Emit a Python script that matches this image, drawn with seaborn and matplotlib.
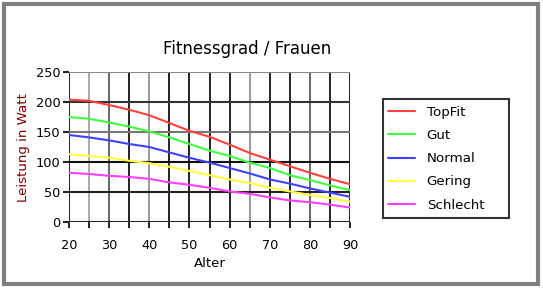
import matplotlib
matplotlib.use("Agg")
import matplotlib.pyplot as plt
import seaborn as sns
import pandas as pd
from matplotlib.patches import Rectangle

alter = [20, 25, 30, 35, 40, 45, 50, 55, 60, 65, 70, 75, 80, 85, 90]
topfit = [204, 202, 195, 187, 178, 165, 152, 142, 129, 115, 104, 93, 82, 72, 63]
gut = [175, 172, 166, 159, 151, 141, 130, 119, 110, 99, 90, 78, 70, 61, 53]
normal = [145, 141, 136, 130, 125, 116, 107, 99, 90, 81, 71, 64, 56, 49, 42]
gering = [113, 110, 107, 102, 98, 92, 85, 78, 71, 65, 57, 51, 45, 40, 34]
schlecht = [82, 80, 77, 75, 72, 66, 62, 57, 51, 47, 41, 36, 33, 29, 24]
series_names = ["TopFit", "Gut", "Normal", "Gering", "Schlecht"]
x_ticks = [20, 30, 40, 50, 60, 70, 80, 90]
y_ticks = [0, 50, 100, 150, 200, 250]

df = pd.concat([
    pd.DataFrame({"Alter": alter, "Watt": vals, "Grad": name})
    for name, vals in zip(series_names, [topfit, gut, normal, gering, schlecht])
])

sns.set_style("white")
plt.rcParams["font.family"] = ["DejaVu Sans"]
plt.rcParams["text.color"] = "black"
plt.rcParams["axes.labelcolor"] = "black"
plt.rcParams["xtick.color"] = "black"
plt.rcParams["ytick.color"] = "black"

W, H = 543, 288
fig = plt.figure(figsize=(W / 100, H / 100), dpi=100)
ax = fig.add_axes([69 / W, (H - 222) / H, 281 / W, 150 / H])

# grid lines
vcolors = {20: "#222222", 25: "#aaaaaa", 30: "#666666", 35: "#222222", 40: "#999999",
           45: "#222222", 50: "#222222", 55: "#222222", 60: "#222222", 65: "#999999",
           70: "#222222", 75: "#222222", 80: "#666666", 85: "#222222", 90: "#222222"}
for xv in alter:
    ax.axvline(xv, color=vcolors[xv], lw=1.4, zorder=1)
hcolors = {0: "#222222", 50: "#222222", 100: "#111111", 150: "#777777", 200: "#333333", 250: "#888888"}
for yv in y_ticks:
    ax.axhline(yv, color=hcolors[yv], lw=1.5, zorder=1)

palette = {"TopFit": "#ff4040", "Gut": "#40ff40", "Normal": "#4040ff",
           "Gering": "#ffff40", "Schlecht": "#ff40ff"}
sns.lineplot(data=df, x="Alter", y="Watt", hue="Grad", palette=palette,
             lw=1.5, ax=ax, zorder=3, legend=False)

ax.set_xlim(20, 90)
ax.set_ylim(0, 250)
ax.set_xticks(x_ticks)
ax.set_xticks(alter, minor=True)
ax.set_yticks(y_ticks)
for s in ax.spines.values():
    s.set_visible(False)
ax.tick_params(axis="x", which="both", bottom=True, direction="out", length=4,
               width=1.4, color="#222222", pad=8, labelsize=9.3)
ax.tick_params(axis="y", left=True, direction="out", length=4, width=1.5,
               color="#222222", pad=2, labelsize=9.3)
ax.set_xlabel("Alter", fontsize=9.5, labelpad=4)
ax.set_ylabel("Leistung in Watt", fontsize=9.6, color="#800000", labelpad=4)

fig.text(247 / W, 1 - 48.5 / H, "Fitnessgrad / Frauen", ha="center", va="center",
         fontsize=12)

# legend
fig.patches.append(Rectangle((383 / W, 1 - 218 / H), 126 / W, 119 / H,
                             transform=fig.transFigure, fill=False,
                             edgecolor="#333333", lw=1.5, zorder=5))
handles = [plt.Line2D([], [], color=palette[n], lw=1.5) for n in series_names]
leg = fig.legend(handles, series_names, loc="upper left",
                 bbox_to_anchor=(388 / W, 1 - 106 / H), fontsize=9.6,
                 frameon=False, handlelength=2.05, handletextpad=0.85,
                 labelspacing=0.76, borderpad=0, borderaxespad=0)

# outer border
fig.patches.append(Rectangle((4 / W, 4 / H), 534 / W, 280 / H,
                             transform=fig.transFigure, fill=False,
                             edgecolor="#808080", lw=3))

fig.savefig("out.png", dpi=100)
